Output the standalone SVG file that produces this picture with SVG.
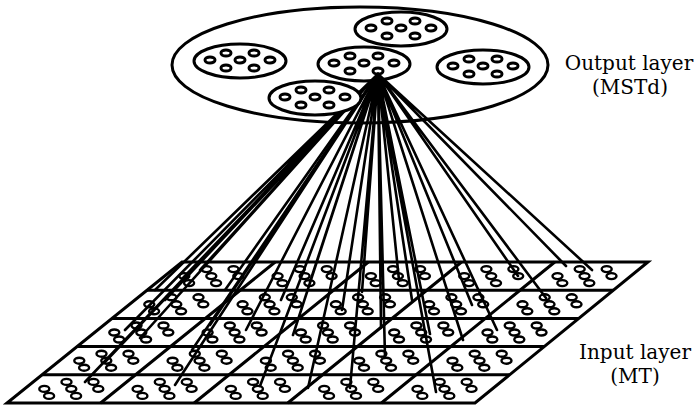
<svg xmlns="http://www.w3.org/2000/svg" xmlns:xlink="http://www.w3.org/1999/xlink" width="696" height="407" viewBox="0 0 696 407">
<style>
.big{stroke:#000;stroke-width:3;fill:none}
.cl{stroke:#000;stroke-width:3;fill:#fff}
.dot{stroke:#000;stroke-width:3;fill:#fff}
.rg{stroke:#000;stroke-width:2.4;fill:#fff}
.grid{stroke:#000;stroke-width:3;fill:none;stroke-linejoin:miter}
.con{stroke:#000;stroke-width:2.6;fill:none;stroke-linecap:round}
.lab{font-family:"DejaVu Serif","Liberation Serif",serif;font-size:20px;fill:#000;text-anchor:middle}
</style>
<defs>
<g id="oc">
<ellipse cx="0" cy="0" rx="46" ry="17" class="cl"/>
<ellipse cx="-14" cy="-8" rx="5" ry="3" class="dot"/>
<ellipse cx="14" cy="-8" rx="5" ry="3" class="dot"/>
<ellipse cx="-30" cy="-1" rx="5" ry="3" class="dot"/>
<ellipse cx="0" cy="-1" rx="5" ry="3" class="dot"/>
<ellipse cx="30" cy="-1" rx="5" ry="3" class="dot"/>
<ellipse cx="-14" cy="7" rx="5" ry="3" class="dot"/>
<ellipse cx="14" cy="7" rx="5" ry="3" class="dot"/>
</g>
<g id="ic">
<ellipse cx="-4.8" cy="-7" rx="5" ry="3" class="rg"/>
<ellipse cx="22.2" cy="-7" rx="5" ry="3" class="rg"/>
<ellipse cx="-27" cy="0" rx="5" ry="3" class="rg"/>
<ellipse cx="0" cy="0" rx="5" ry="3" class="rg"/>
<ellipse cx="27" cy="0" rx="5" ry="3" class="rg"/>
<ellipse cx="-22.2" cy="7" rx="5" ry="3" class="rg"/>
<ellipse cx="4.8" cy="7" rx="5" ry="3" class="rg"/>
</g>
</defs>

<g id="input-layer">
<g class="grid">
<path d="M182 262 H648 L475 403 H7 Z"/>
<path d="M147 290.2 H613.4 M112 318.4 H578.8 M77 346.6 H544.2 M42 374.8 H509.6"/>
<path d="M275.2 262 L100.6 403 M368.4 262 L194.2 403 M461.6 262 L287.8 403 M554.8 262 L381.4 403"/>
</g>
<g id="input-units">
<use xlink:href="#ic" x="211.3" y="276.1"/><use xlink:href="#ic" x="304.6" y="276.1"/><use xlink:href="#ic" x="397.9" y="276.1"/><use xlink:href="#ic" x="491.2" y="276.1"/><use xlink:href="#ic" x="584.5" y="276.1"/>
<use xlink:href="#ic" x="176.3" y="304.3"/><use xlink:href="#ic" x="269.6" y="304.3"/><use xlink:href="#ic" x="362.9" y="304.3"/><use xlink:href="#ic" x="456.2" y="304.3"/><use xlink:href="#ic" x="549.5" y="304.3"/>
<use xlink:href="#ic" x="141.3" y="332.5"/><use xlink:href="#ic" x="234.6" y="332.5"/><use xlink:href="#ic" x="327.9" y="332.5"/><use xlink:href="#ic" x="421.2" y="332.5"/><use xlink:href="#ic" x="514.5" y="332.5"/>
<use xlink:href="#ic" x="106.3" y="360.7"/><use xlink:href="#ic" x="199.6" y="360.7"/><use xlink:href="#ic" x="292.9" y="360.7"/><use xlink:href="#ic" x="386.2" y="360.7"/><use xlink:href="#ic" x="479.5" y="360.7"/>
<use xlink:href="#ic" x="71.3" y="388.9"/><use xlink:href="#ic" x="164.6" y="388.9"/><use xlink:href="#ic" x="257.9" y="388.9"/><use xlink:href="#ic" x="351.2" y="388.9"/><use xlink:href="#ic" x="444.5" y="388.9"/>
</g>
</g>

<g id="output-layer">
<ellipse cx="360" cy="65" rx="188" ry="58" class="big"/>
</g>
<g id="unit-middle"><use xlink:href="#oc" x="364" y="64"/></g>

<g id="connectors" class="con">
<path d="M378 74 L592 270 M378 74 L566 266 M378 74 L546 298 M378 74 L518 276 M378 74 L497 330 M378 74 L472 305 M378 74 L463 340 M378 74 L436 392 M378 74 L430 334 M378 74 L412 300 M378 74 L399 280 M378 74 L385 357 M378 74 L381 328 M378 74 L362 292 M378 74 L350 388 M378 74 L342 310 M378 74 L308 388 M378 74 L310 282 M378 74 L293 335 M378 74 L281 300 M378 74 L260 386 M378 74 L246 330 M378 74 L225 290"/>
<path d="M378 74 L210 325 M378 74 L192 350 M378 74 L175 385 M378 74 L200 270 M378 74 L183 278 M378 74 L165 300 M378 74 L140 338 M378 74 L125 330 M378 74 L105 362 M378 74 L85 382 M378 74 L155 290"/>
</g>

<g id="unit-left"><use xlink:href="#oc" x="240" y="61"/></g>
<g id="unit-top"><use xlink:href="#oc" x="401" y="29"/></g>
<g id="unit-right"><use xlink:href="#oc" x="483" y="67"/></g>
<g id="unit-bottom"><use xlink:href="#oc" x="315" y="98"/></g>

<g id="labels">
<text class="lab" x="629" y="70">Output layer</text>
<text class="lab" x="630" y="94">(MSTd)</text>
<text class="lab" x="635" y="359">Input layer</text>
<text class="lab" x="635" y="383">(MT)</text>
</g>
</svg>
